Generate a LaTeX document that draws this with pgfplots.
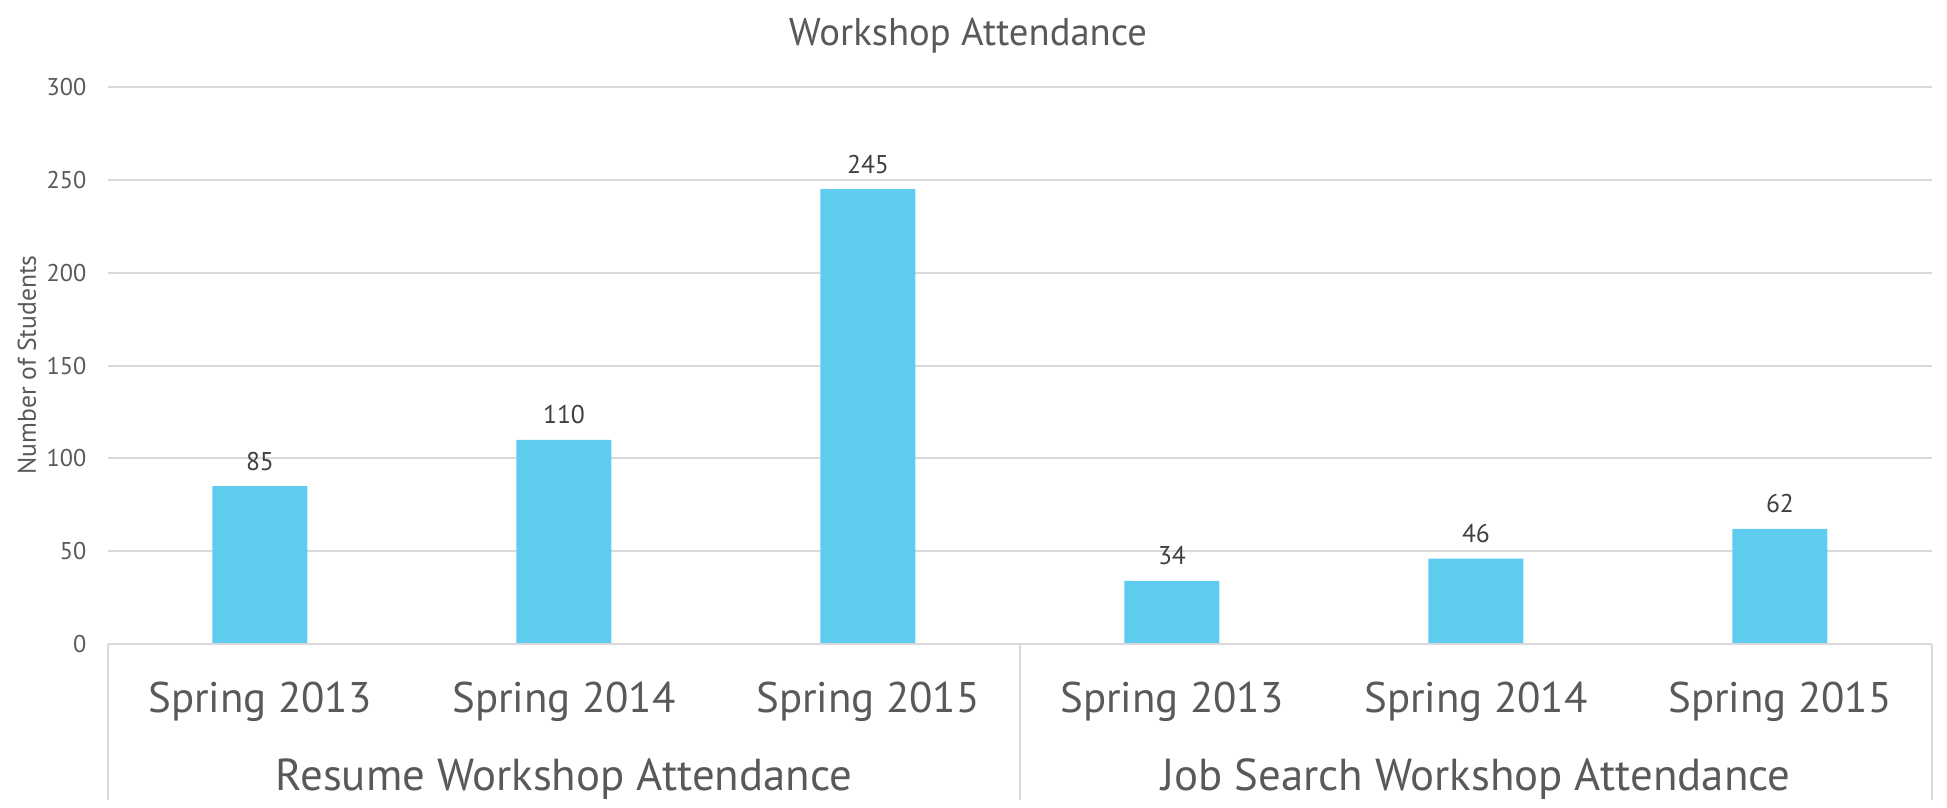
\documentclass[border=0pt]{standalone}
\usepackage{pgfplots}
\pgfplotsset{compat=1.18}
\usepackage{fontspec}
\setmainfont{PT Sans}
\definecolor{barblue}{HTML}{5FCBEF}
\definecolor{txt}{HTML}{595959}
\definecolor{lbl}{HTML}{404040}
\definecolor{gridc}{HTML}{D9D9D9}
\begin{document}
\begin{tikzpicture}
\begin{axis}[
    at={(0,0)}, anchor=south west,
    scale only axis,
    width=182.4mm, height=55.7mm,
    xmin=-0.5, xmax=5.5,
    ymin=0, ymax=300,
    ytick={0,50,...,300},
    xtick={0,...,5},
    xticklabels={Spring 2013,Spring 2014,Spring 2015,Spring 2013,Spring 2014,Spring 2015},
    axis line style={draw=none},
    major tick length=0pt,
    ymajorgrids,
    grid style={gridc, line width=0.2mm},
    yticklabel style={font=\fontsize{6.9}{8}\selectfont, text=txt, anchor=east, inner sep=0pt, xshift=-2.1mm},
    xticklabel style={font=\fontsize{12.2}{14}\selectfont, text=txt, anchor=base, inner sep=0pt, yshift=-6.8mm},
    /pgf/number format/assume math mode=true,
    ybar, bar width=9.5mm,
    nodes near coords,
    every node near coord/.append style={font=\fontsize{7.3}{8}\selectfont, text=lbl, anchor=base, inner sep=0pt, yshift=1.6mm},
    clip=false,
]
    \addplot[fill=barblue, draw=none] coordinates {(0,85) (1,110) (2,245) (3,34) (4,46) (5,62)};

    \draw[gridc, line width=0.2mm] (axis cs:-0.5,0) -- (axis cs:5.5,0);
    \draw[gridc, line width=0.2mm] (axis cs:-0.5,0) -- ++(0pt,-15.6mm);
    \draw[gridc, line width=0.2mm] (axis cs:2.5,0) -- ++(0pt,-15.6mm);
    \draw[gridc, line width=0.2mm] (axis cs:5.5,0) -- ++(0pt,-15.6mm);

    \node[font=\fontsize{12.75}{15}\selectfont, text=txt, anchor=base, yshift=-14.6mm] at (axis cs:1,0) {Resume Workshop Attendance};
    \node[font=\fontsize{12.75}{15}\selectfont, text=txt, anchor=base, yshift=-14.6mm] at (axis cs:4,0) {Job Search Workshop Attendance};
\end{axis}
\node[font=\fontsize{11}{13}\selectfont, text=txt, anchor=base] at (86mm,59.9mm) {Workshop Attendance};
\node[font=\fontsize{7.3}{8}\selectfont, text=txt, rotate=90] at (-8.1mm,27.9mm) {Number of Students};
\pgfresetboundingbox
\path (-10.8mm,-16.3mm) rectangle (183.9mm,64.4mm);
\end{tikzpicture}
\end{document}
